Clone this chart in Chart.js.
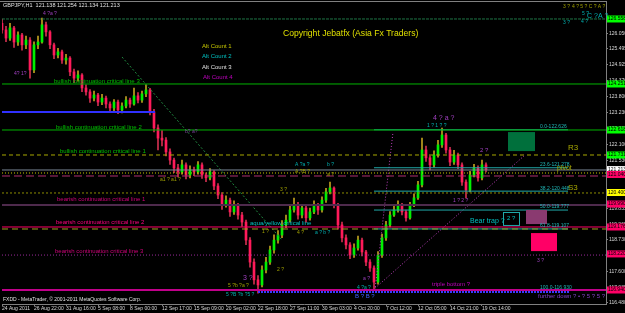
<!DOCTYPE html>
<html>
<head>
<meta charset="utf-8">
<script src="https://cdn.jsdelivr.net/npm/chart.js@4"></script>
<style>
  html, body { margin: 0; padding: 0; background: #000; }
  canvas { display: block; }
</style>
</head>
<body>
<canvas id="chart" width="625" height="313"></canvas>
<script>
// GBPJPY H1
var firstOpen = 126.40;
var closes = [
  126.17, 125.88, 126.24, 125.74, 125.99, 125.64, 125.81, 124.75, 125.64, 125.74,
  126.35, 126.10, 125.64, 125.28, 125.39, 125.10, 125.17, 124.68, 124.46, 124.57,
  124.11, 123.97, 123.75, 123.86, 123.61, 123.75, 123.54, 123.40, 123.61, 123.33,
  123.47, 123.68, 123.54, 123.83, 123.68, 123.90, 124.04, 123.26, 122.69, 122.33,
  122.26, 121.84, 121.55, 121.27, 121.13, 121.38, 121.02, 121.20, 121.13, 121.38,
  121.02, 120.92, 121.13, 120.63, 120.31, 119.96, 120.13, 119.71, 119.96, 119.60,
  119.35, 118.71, 117.93, 117.30, 117.12, 117.65, 117.93, 118.36, 118.71, 118.89,
  119.25, 119.42, 119.78, 119.96, 119.60, 119.85, 119.50, 119.71, 119.96, 119.78,
  120.13, 120.42, 120.56, 119.96, 119.25, 118.79, 118.54, 118.18, 118.43, 118.71,
  118.29, 117.93, 117.72, 117.22, 118.18, 118.79, 119.25, 119.60, 119.78, 119.96,
  119.71, 119.50, 119.96, 120.21, 120.67, 121.91, 121.63, 121.38, 121.73, 122.09,
  122.44, 121.91, 121.48, 121.73, 121.38, 120.77, 120.49, 121.02, 121.27, 120.92,
  121.38, 121.213
];
var highs = [
  126.55, 126.30, 126.40, 126.30, 126.10, 126.05, 125.95, 125.90, 125.75, 125.95,
  126.59, 126.45, 126.15, 125.70, 125.52, 125.45, 125.30, 125.22, 124.78, 124.72,
  124.62, 124.22, 124.05, 124.00, 123.92, 123.88, 123.82, 123.62, 123.70, 123.68,
  123.58, 123.80, 123.75, 124.11, 123.95, 124.00, 124.22, 124.10, 123.35, 122.80,
  122.60, 122.35, 121.95, 121.62, 121.40, 121.55, 121.45, 121.35, 121.30, 121.50,
  121.45, 121.10, 121.25, 121.18, 120.72, 120.40, 120.28, 120.20, 120.10, 120.02,
  119.70, 119.42, 118.80, 118.05, 117.45, 117.80, 118.10, 118.50, 118.90, 119.05,
  119.40, 119.60, 119.95, 120.20, 120.05, 119.98, 119.92, 119.85, 120.10, 120.02,
  120.25, 120.55, 120.77, 120.60, 120.02, 119.35, 118.90, 118.62, 118.58, 118.85,
  118.78, 118.35, 118.02, 117.80, 118.30, 118.92, 119.38, 119.72, 119.92, 120.10,
  120.02, 119.78, 120.05, 120.35, 120.80, 122.33, 122.05, 121.70, 121.88, 122.25,
  122.69, 122.50, 122.00, 121.90, 121.80, 121.45, 120.85, 121.15, 121.40, 121.35,
  121.55, 121.45
];
var lows = [
  126.05, 125.75, 125.80, 125.55, 125.62, 125.45, 125.50, 124.46, 124.65, 125.50,
  125.70, 125.95, 125.50, 125.15, 125.18, 124.98, 124.95, 124.55, 124.30, 124.35,
  123.98, 123.85, 123.60, 123.65, 123.48, 123.52, 123.40, 123.25, 123.30, 123.20,
  123.22, 123.40, 123.42, 123.50, 123.58, 123.60, 123.80, 123.15, 122.55, 121.91,
  122.05, 121.70, 121.40, 121.10, 120.95, 121.05, 120.88, 120.92, 121.00, 121.05,
  120.90, 120.78, 120.85, 120.50, 120.18, 119.80, 119.88, 119.55, 119.62, 119.45,
  119.20, 118.55, 117.75, 117.15, 116.83, 117.05, 117.55, 117.85, 118.25, 118.60,
  118.80, 119.15, 119.35, 119.70, 119.45, 119.50, 119.35, 119.42, 119.65, 119.62,
  119.70, 120.05, 120.35, 119.85, 119.10, 118.65, 118.40, 118.05, 118.10, 118.35,
  118.15, 117.80, 117.60, 116.99, 117.15, 118.10, 118.70, 119.18, 119.55, 119.70,
  119.60, 119.38, 119.45, 119.90, 120.15, 120.60, 121.50, 121.20, 121.30, 121.65,
  122.00, 121.80, 121.35, 121.40, 121.25, 120.65, 120.21, 120.42, 120.95, 120.80,
  120.85, 121.13
];

// time axis labels, one every 8 bars
var xLabels = ['24 Aug 2011', '26 Aug 22:00', '31 Aug 16:00', '5 Sep 08:00', '8 Sep 00:00',
  '12 Sep 17:00', '15 Sep 09:00', '20 Sep 02:00', '22 Sep 18:00', '27 Sep 11:00',
  '30 Sep 03:00', '4 Oct 20:00', '7 Oct 12:00', '12 Oct 05:00', '14 Oct 21:00', '19 Oct 14:00'];
var yTicks = [126.050, 125.495, 124.925, 124.370, 123.800, 123.230, 122.665, 122.100, 121.530,
  120.965, 120.400, 119.835, 119.265, 118.730, 118.165, 117.600, 117.035, 116.480];

// horizontal levels across the whole chart
var levelPrices = [126.558, 124.251, 122.618, 121.731, 121.199, 121.092, 120.986, 120.383,
  119.957, 119.176, 119.105, 118.180, 116.940];
var levelStyles = [
  { color: '#1e7444', width: 1, dash: [3, 1] },
  { color: '#00b400', width: 1, dash: [] },
  { color: '#00b400', width: 1, dash: [] },
  { color: '#a8a800', width: 1, dash: [4, 3] },
  { color: '#7a8898', width: 1, dash: [] },
  { color: '#c8c800', width: 1, dash: [1, 2] },
  { color: '#b03070', width: 1, dash: [8, 4] },
  { color: '#8c8c00', width: 1, dash: [2, 2] },
  { color: '#4e2a4c', width: 2, dash: [] },
  { color: '#ff0066', width: 1, dash: [] },
  { color: '#a0a020', width: 1, dash: [6, 4] },
  { color: '#9a2a9a', width: 1, dash: [1, 2] },
  { color: '#c0008a', width: 2, dash: [] }
];

// fibonacci retracement of the last swing
var fibLevels = [122.626, 121.278, 120.448, 119.777, 119.107, 116.930];
var fibNames = ['0.0', '23.6', '38.2', '50.0', '61.8', '100.0'];
var fibStart = 93, fibEnd = 141.5;

// partial lines and trend lines: [x1, y1, x2, y2]
var segments = [
  [0, 123.257, 38.25, 123.257],
  [64, 116.869, 142, 116.869],
  [30, 125.209, 70, 118.714],
  [92.75, 116.94, 130.75, 121.731],
  [93.25, 116.94, 97.75, 122.547]
];
var segmentStyles = [
  { color: '#3030ff', width: 2, dash: [] },
  { color: '#3a3aff', width: 2, dash: [2, 1] },
  { color: '#208a40', width: 1, dash: [2, 2] },
  { color: '#c040c0', width: 1, dash: [1, 2] },
  { color: '#c040c0', width: 1, dash: [1, 2] }
];

// boxes [x1, y1, x2, y2]
var boxes = [
  [126.5, 122.545, 133.25, 121.87],
  [131, 119.78, 136.25, 119.28],
  [132.25, 118.96, 138.75, 118.32]
];
var boxColors = ['#00703c', '#8a3a70', '#ff0066'];
var trapBox = [125.25, 119.71, 129.25, 119.25];

// price tags on the right axis
var tagPrices = [126.558, 124.251, 122.618, 121.731, 121.213, 121.04, 120.40, 119.99, 119.176, 118.22, 116.94];
var tagColors = ['#00ff00', '#00ff00', '#00ff00', '#00ff00', '#ffffff', '#ff0066', '#ffff00', '#ff0066', '#ff0066', '#ff0066', '#ff0066'];

var texts = [
  ['GBPJPY,H1  121.138 121.254 121.134 121.213', 0.25, 127.05, '#e0e0e0', 5.5],
  ['Copyright Jebatfx (Asia Fx Traders)', 70.25, 126.025, '#e0e000', 8.6],
  ['Alt Count 1', 50, 125.60, '#c8c800', 6],
  ['Alt Count 2', 50, 125.245, '#00c0c0', 6],
  ['Alt Count 3', 50, 124.854, '#e0e0e0', 6],
  ['Alt Count 4', 50.25, 124.50, '#c000c0', 6],
  ['bullish continuation critical line 3', 13, 124.357, '#00c000', 6],
  ['bullish continuation critical line 2', 13.5, 122.725, '#00c000', 6],
  ['bullish continuation critical line 1', 14.5, 121.873, '#00c000', 6],
  ['bearish continuation critical line 1', 13.75, 120.17, '#d0007a', 6],
  ['bearish continuation critical line 2', 13.5, 119.353, '#ff0080', 6],
  ['bearish continuation critical line 3', 13.25, 118.324, '#d0007a', 6],
  ['aqua/yellow critical line', 62, 119.318, '#00c0c0', 6],
  ['Bear trap ?', 117, 119.39, '#00c0c0', 7],
  ['2 ?', 126.25, 119.49, '#00c0c0', 6],
  ['triple bottom ?', 107.5, 117.153, '#c000c0', 6],
  ['further down ? \u2022 ? 5 ? 5 ?', 134, 116.727, '#8040c0', 6],
  ['R3', 141.5, 121.98, '#a8a800', 8],
  ['pivot', 138.75, 121.27, '#a8a800', 7],
  ['S3', 141.5, 120.56, '#a8a800', 8],
  ['4 ?a ?', 10.25, 126.735, '#a040c0', 5],
  ['4? 1?', 3, 124.606, '#a040c0', 5],
  ['b? a?', 45.75, 122.547, '#8040a0', 5],
  ['a1 ? a1 ?', 39.5, 120.84, '#a0a000', 5],
  ['A ?a ?', 73.25, 121.376, '#00b0b0', 5],
  ['A ?B ?', 73.25, 121.128, '#a0a000', 5],
  ['b ?', 81.25, 121.376, '#00b0b0', 5],
  ['a ?', 81.25, 121.02, '#a0a000', 5],
  ['3 ?', 69.5, 120.49, '#a0a000', 5],
  ['4 ? a ?', 107.75, 123.044, '#a040c0', 7],
  ['1 ? 1 ? ?', 106.25, 122.76, '#00b0b0', 5],
  ['2 ?', 119.5, 121.91, '#a040c0', 6],
  ['1 ? 2 ?', 112.75, 120.10, '#a040c0', 5],
  ['1 ?', 65, 118.998, '#a0a000', 5],
  ['4 ?', 73.75, 118.96, '#a0a000', 5],
  ['a ? b ?', 78.25, 118.96, '#00b0b0', 5],
  ['2 ?', 68.75, 117.65, '#a0a000', 5],
  ['3 ?', 60.25, 117.366, '#a040c0', 7],
  ['5 ?b ?a ?', 56.5, 117.08, '#a0a000', 5],
  ['5 ?B ?b ?5 ?', 56, 116.76, '#00b0b0', 5],
  ['a ?', 90.25, 117.33, '#a040c0', 5],
  ['4 ?a ?', 88.75, 117.01, '#00b0b0', 5],
  ['B ? B ?', 88.25, 116.727, '#4060ff', 6],
  ['3 ?', 133.75, 118.0, '#a040c0', 5],
  ['3 ?', 140.25, 126.984, '#a0a000', 5],
  ['4 ? 5 ? C ? A ?', 142.5, 126.984, '#a0a000', 5],
  ['5 ?', 145, 126.735, '#00b0b0', 5],
  ['C ?A ?', 146.25, 126.664, '#00b0b0', 7],
  ['3 ?', 140.25, 126.416, '#00b0b0', 5],
  ['4 ?', 144.75, 126.45, '#00b0b0', 5],
  ['FXDD - MetaTrader, \u00a9 2001-2011 MetaQuotes Software Corp.', 0.25, 116.585, '#e0e0e0', 5]
];

var FONT = '"Liberation Sans", Arial, sans-serif';

// candles as floating bars
var opens = closes.map(function (c, i) { return i === 0 ? firstOpen : closes[i - 1]; });
var wickData = closes.map(function (c, i) { return { x: i, y: [lows[i], highs[i]] }; });
var bodyData = closes.map(function (c, i) { return { x: i, y: [opens[i], c] }; });
var bodyColors = closes.map(function (c, i) { return c >= opens[i] ? '#00f000' : '#ff1a5a'; });
var wickColors = closes.map(function (c, i) { return c >= opens[i] ? '#c0a020' : '#d03050'; });

var datasets = [];
levelPrices.forEach(function (p, i) {
  var s = levelStyles[i];
  datasets.push({ type: 'line', data: [{ x: 0, y: p }, { x: 151, y: p }], borderColor: s.color,
    borderWidth: s.width, borderDash: s.dash, pointRadius: 0, order: 1 });
});
fibLevels.forEach(function (p) {
  datasets.push({ type: 'line', data: [{ x: fibStart, y: p }, { x: fibEnd, y: p }], borderColor: '#20a8a8',
    borderWidth: 1, pointRadius: 0, order: 1 });
});
segments.forEach(function (s, i) {
  var st = segmentStyles[i];
  datasets.push({ type: 'line', data: [{ x: s[0], y: s[1] }, { x: s[2], y: s[3] }], borderColor: st.color,
    borderWidth: st.width, borderDash: st.dash, pointRadius: 0, order: 1 });
});
datasets.push({ type: 'bar', data: wickData, backgroundColor: wickColors, barThickness: 1, grouped: false, order: 6 });
datasets.push({ type: 'bar', data: bodyData, backgroundColor: bodyColors, barThickness: 2, minBarLength: 1, grouped: false, order: 5 });

var overlay = {
  id: 'overlay',
  beforeDraw: function (chart) {
    var ctx = chart.ctx;
    ctx.save();
    ctx.fillStyle = '#000';
    ctx.fillRect(0, 0, chart.width, chart.height);
    ctx.restore();
  },
  afterDatasetsDraw: function (chart) {
    var ctx = chart.ctx, xs = chart.scales.x, ys = chart.scales.y;
    ctx.save();
    boxes.forEach(function (b, i) {
      var x1 = xs.getPixelForValue(b[0]), y1 = ys.getPixelForValue(b[1]);
      var x2 = xs.getPixelForValue(b[2]), y2 = ys.getPixelForValue(b[3]);
      ctx.fillStyle = boxColors[i];
      ctx.fillRect(x1, y1, x2 - x1, y2 - y1);
    });
    var tx1 = xs.getPixelForValue(trapBox[0]), ty1 = ys.getPixelForValue(trapBox[1]);
    var tx2 = xs.getPixelForValue(trapBox[2]), ty2 = ys.getPixelForValue(trapBox[3]);
    ctx.strokeStyle = '#20a8a8';
    ctx.lineWidth = 1;
    ctx.strokeRect(Math.round(tx1) + 0.5, Math.round(ty1) + 0.5, tx2 - tx1, ty2 - ty1);

    ctx.textBaseline = 'middle';
    ctx.textAlign = 'left';
    fibLevels.forEach(function (p, i) {
      ctx.font = '5px ' + FONT;
      ctx.fillStyle = '#20b8b8';
      ctx.fillText(fibNames[i] + '-' + p.toFixed(3), xs.getPixelForValue(134.5), ys.getPixelForValue(p) - 3);
    });
    texts.forEach(function (t) {
      ctx.font = t[4] + 'px ' + FONT;
      ctx.fillStyle = t[3];
      ctx.fillText(t[0], xs.getPixelForValue(t[1]), ys.getPixelForValue(t[2]));
    });
    ctx.restore();
  },
  afterDraw: function (chart) {
    var ctx = chart.ctx, ys = chart.scales.y, area = chart.chartArea;
    ctx.save();
    ctx.strokeStyle = '#808080';
    ctx.lineWidth = 1;
    ctx.beginPath();
    ctx.moveTo(0, area.top + 0.5);
    ctx.lineTo(area.right, area.top + 0.5);
    ctx.stroke();
    ctx.font = '5px ' + FONT;
    ctx.textBaseline = 'middle';
    tagPrices.forEach(function (p, i) {
      var y = ys.getPixelForValue(p);
      ctx.fillStyle = tagColors[i];
      ctx.fillRect(area.right + 1, y - 3.5, 18, 7);
      ctx.fillStyle = '#000';
      ctx.fillText(p.toFixed(3), area.right + 2, y);
    });
    ctx.restore();
  }
};

new Chart(document.getElementById('chart'), {
  data: { datasets: datasets },
  options: {
    responsive: false,
    animation: false,
    layout: { padding: { top: 1, left: 2, right: 0, bottom: 0 } },
    plugins: { legend: { display: false }, tooltip: { enabled: false } },
    scales: {
      x: {
        type: 'linear', position: 'bottom', min: 0, max: 151, offset: false,
        afterBuildTicks: function (scale) {
          scale.ticks = xLabels.map(function (l, k) { return { value: k * 8 }; });
        },
        afterFit: function (scale) {
          scale.height = 9;
          scale.paddingLeft = 0;
          scale.paddingRight = 0;
        },
        ticks: {
          autoSkip: false, maxRotation: 0, align: 'start', padding: 0,
          color: '#d8d8d8', font: { size: 5, family: FONT },
          callback: function (v) { return xLabels[Math.round(v / 8)] || ''; }
        },
        grid: { drawOnChartArea: false, tickLength: 2, color: '#808080', offset: false },
        border: { color: '#808080' }
      },
      y: {
        type: 'linear', position: 'right', min: 116.443, max: 127.196,
        afterBuildTicks: function (scale) {
          scale.ticks = yTicks.map(function (v) { return { value: v }; });
        },
        afterFit: function (scale) {
          scale.width = 19;
          scale.paddingTop = 0;
          scale.paddingBottom = 0;
        },
        ticks: {
          padding: 1, color: '#d8d8d8', font: { size: 5, family: FONT },
          callback: function (v) { return v.toFixed(3); }
        },
        grid: { drawOnChartArea: false, tickLength: 2, color: '#808080' },
        border: { color: '#808080' }
      }
    }
  },
  plugins: [overlay]
});
</script>
</body>
</html>
